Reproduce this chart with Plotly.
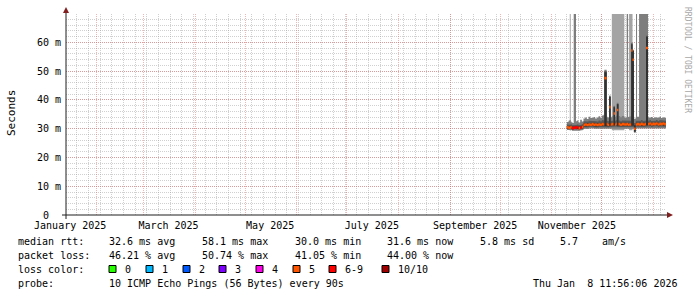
import plotly.graph_objects as go
from datetime import datetime, timedelta

# ---------------- data ----------------
T_START = "2025-01-13 12:00"
T_END = "2026-01-08 12:00"
DATA_END = "2026-01-08 12:00"

seg_start = [
    "2025-11-10 00:00", "2025-11-11 00:00", "2025-11-11 18:00", "2025-11-12 08:00", "2025-11-13 00:00",
    "2025-11-14 03:00", "2025-11-15 12:00", "2025-11-16 00:00", "2025-11-17 00:00", "2025-11-18 00:00",
    "2025-11-19 00:00", "2025-11-20 00:00", "2025-11-21 00:00", "2025-11-22 00:00", "2025-11-23 00:00",
    "2025-11-24 00:00", "2025-11-25 00:00", "2025-11-26 00:00", "2025-11-27 00:00", "2025-11-28 00:00",
    "2025-11-29 00:00", "2025-11-30 00:00", "2025-12-01 00:00", "2025-12-02 00:00", "2025-12-02 12:00",
    "2025-12-03 22:00", "2025-12-04 12:00", "2025-12-05 10:00", "2025-12-06 07:00", "2025-12-07 00:00",
    "2025-12-08 00:00", "2025-12-08 22:00", "2025-12-09 12:00", "2025-12-10 00:00", "2025-12-11 00:00",
    "2025-12-12 00:00", "2025-12-13 00:00", "2025-12-14 12:00", "2025-12-15 22:00", "2025-12-16 18:00",
    "2025-12-17 08:00", "2025-12-18 15:00", "2025-12-19 10:00", "2025-12-20 06:00", "2025-12-21 08:00",
    "2025-12-21 12:00", "2025-12-22 03:00", "2025-12-23 08:00", "2025-12-24 12:00", "2025-12-25 12:00",
    "2025-12-26 22:00", "2025-12-27 12:00", "2025-12-28 17:00", "2025-12-29 12:00", "2025-12-30 12:00",
    "2025-12-31 12:00", "2026-01-01 12:00", "2026-01-02 12:00", "2026-01-03 12:00", "2026-01-04 12:00",
    "2026-01-05 12:00", "2026-01-06 12:00", "2026-01-07 12:00",
]

median_ms = [
    30.5, 30.3, 30.4, 30.6, 30.2, 30.4, 30.3, 30.5, 30.2, 30.4,
    30.6, 31.4, 31.5, 31.3, 31.5, 31.4, 31.6, 31.4, 31.5, 31.3,
    31.5, 31.4, 31.6, 31.5, 47.6, 31.6, 31.4, 37.5, 31.5, 31.6,
    35.3, 31.5, 31.7, 36.5, 31.6, 31.4, 31.6, 31.5, 31.6, 31.4,
    31.5, 57.2, 54.0, 30.0, 31.6, 31.5, 31.6, 31.5, 31.7, 31.5,
    31.6, 58.1, 31.6, 31.8, 31.5, 31.7, 31.6, 31.8, 31.5, 31.7,
    31.6, 31.8, 31.6,
]

lost_pings = [
    5, 5, 5, 5, 6, 6, 6, 6, 5, 6,
    5, 5, 5, 5, 5, 5, 5, 5, 5, 5,
    5, 5, 5, 5, 5, 5, 5, 5, 5, 5,
    5, 5, 5, 5, 5, 5, 5, 5, 5, 5,
    5, 5, 5, 5, 5, 5, 5, 5, 5, 5,
    5, 5, 5, 5, 5, 5, 5, 5, 5, 5,
    5, 5, 5,
]

# smoke layers (ms); None = layer not present
smoke2_lo = [None, None, 29.3] + [None] * 26 + [29.5] * 8 + [None] * 3 + [29.5, 29.5] + [None] * 21
smoke2_hi = [None, None, 80.0] + [None] * 26 + [80.0] * 8 + [None] * 3 + [80.0, 80.0] + [None] * 21

smoke3_lo = [
    29.6, 29.4, 29.5, 29.6, 29.3, 29.4, 29.4, 29.5, 29.3, 29.4,
    29.6, 30.0, 30.1, 29.9, 30.0, 30.0, 30.2, 30.0, 30.1, 29.9,
    30.1, 30.0, 30.1, 30.0, 30.0, 30.1, 30.0, 30.0, 30.0, 30.1,
    30.0, 30.0, 30.1, 30.0, 30.1, 30.0, 30.1, 30.0, 30.1, 30.0,
    30.0, 30.0, 30.0, 28.7, 30.1, 30.0, 30.1, 30.0, 30.1, 30.0,
    30.1, 30.1, 30.0, 30.1, 30.0, 30.2, 30.1, 30.2, 30.0, 30.1,
    30.0, 30.2, 30.1,
]
smoke3_hi = [
    32.3, 32.8, 33.0, 32.4, 32.0, 80.0, 32.6, 32.9, 32.2, 33.1,
    32.5, 33.6, 33.9, 33.4, 34.2, 33.7, 33.8, 34.1, 33.6, 33.9,
    34.3, 33.8, 34.6, 34.9, 50.5, 34.2, 33.9, 41.6, 34.0, 34.3,
    38.0, 34.2, 34.5, 39.0, 34.4, 34.0, 34.4, 33.9, 80.0, 34.1,
    34.3, 60.0, 57.5, 33.5, 34.0, 80.0, 34.2, 80.0, 80.0, 80.0,
    80.0, 80.0, 34.0, 33.8, 34.1, 33.7, 34.0, 33.9, 33.8, 34.2,
    33.7, 34.0, 33.8,
]
smoke4_lo = [
    29.9, 29.7, 29.8, 30.0, 29.6, 29.8, 29.7, 29.9, 29.6, 29.8,
    30.0, 30.5, 30.6, 30.4, 30.6, 30.5, 30.7, 30.5, 30.6, 30.4,
    30.6, 30.5, 30.7, 30.6, 30.6, 30.7, 30.5, 30.6, 30.6, 30.7,
    30.6, 30.6, 30.8, 30.6, 30.7, 30.5, 30.7, 30.6, 30.7, 30.5,
    30.6, 30.6, 30.6, 28.8, 30.7, 30.6, 30.7, 30.6, 30.8, 30.6,
    30.7, 30.7, 30.7, 30.9, 30.6, 30.8, 30.7, 30.9, 30.6, 30.8,
    30.7, 30.9, 30.7,
]
smoke4_hi = [
    31.5, 31.3, 31.4, 31.6, 31.2, 31.4, 31.3, 31.5, 31.2, 31.4,
    31.6, 32.6, 32.7, 32.5, 32.8, 32.6, 32.8, 32.7, 32.6, 32.5,
    32.9, 32.6, 33.0, 32.9, 50.0, 32.8, 32.6, 41.3, 32.7, 32.9,
    37.7, 32.8, 33.0, 38.7, 32.9, 32.6, 32.9, 32.7, 32.8, 32.7,
    32.8, 59.7, 57.2, 32.0, 32.8, 32.7, 32.9, 32.8, 33.0, 32.7,
    32.9, 62.3, 32.8, 33.0, 32.7, 32.9, 32.8, 33.0, 32.7, 33.0,
    32.8, 33.0, 32.8,
]
smoke5_lo = [
    30.1, 30.0, 30.0, 30.2, 29.9, 30.0, 30.0, 30.1, 29.9, 30.0,
    30.2, 30.9, 31.0, 30.8, 31.0, 30.9, 31.1, 30.9, 31.0, 30.8,
    31.0, 30.9, 31.1, 31.0, 31.0, 31.1, 30.9, 31.0, 31.0, 31.1,
    31.0, 31.0, 31.2, 31.0, 31.1, 30.9, 31.1, 31.0, 31.1, 30.9,
    31.0, 31.0, 31.0, 29.0, 31.1, 31.0, 31.1, 31.0, 31.2, 31.0,
    31.1, 31.1, 31.1, 31.3, 31.0, 31.2, 31.1, 31.3, 31.0, 31.2,
    31.1, 31.3, 31.1,
]
smoke5_hi = [
    30.9, 30.8, 30.9, 31.0, 30.7, 30.9, 30.8, 30.9, 30.7, 30.9,
    31.0, 31.9, 32.0, 31.8, 32.0, 31.9, 32.1, 31.9, 32.0, 31.8,
    32.0, 31.9, 32.1, 32.0, 49.6, 32.1, 31.9, 41.0, 32.0, 32.1,
    37.5, 32.0, 32.2, 38.5, 32.1, 31.9, 32.1, 32.0, 32.1, 31.9,
    32.0, 59.4, 57.0, 31.2, 32.1, 32.0, 32.1, 32.0, 32.2, 32.0,
    32.1, 62.0, 32.1, 32.3, 32.0, 32.2, 32.1, 32.3, 32.0, 32.2,
    32.1, 32.3, 32.1,
]

loss_levels = ["0", "1", "2", "3", "4", "5", "6-9", "10/10"]
loss_colors = ["#26ff00", "#00b8ff", "#0059ff", "#7e00ff", "#ff00ea", "#ff5500", "#ff0000", "#a10000"]

y_tickvals = [0, 10, 20, 30, 40, 50, 60]
y_ticktext = ["0\u00a0\u00a0", "10 m", "20 m", "30 m", "40 m", "50 m", "60 m"]

month_lines = ["2025-02-01", "2025-03-01", "2025-04-01", "2025-05-01", "2025-06-01", "2025-07-01",
               "2025-08-01", "2025-09-01", "2025-10-01", "2025-11-01", "2025-12-01", "2026-01-01"]
label_dates = ["2025-01-16", "2025-03-16", "2025-05-16", "2025-07-16", "2025-09-16", "2025-11-16"]
label_text = ["January 2025", "March 2025", "May 2025", "July 2025", "September 2025", "November 2025"]

stats_rtt = ["32.6 ms avg", "58.1 ms max", "30.0 ms min", "31.6 ms now", "5.8 ms sd", "5.7", "am/s"]
stats_loss = ["46.21 % avg", "50.74 % max", "41.05 % min", "44.00 % now"]
probe_text = "10 ICMP Echo Pings (56 Bytes) every 90s"
stamp_text = "Thu Jan\u00a0\u00a08 11:56:06 2026"

# ---------------- helpers ----------------
W, H = 697, 297
L, R, T, B = 66, 31, 14, 82
PW, PH = W - L - R, H - T - B
FONT = "DejaVu Sans Mono"


def px(x):
    return (x - L) / PW


def py(y):
    return (H - B - y) / PH


def ts(s):
    return datetime.strptime(s, "%Y-%m-%d %H:%M")


starts = [ts(s) for s in seg_start]
ends = starts[1:] + [ts(DATA_END)]


def band_xy(lo, hi):
    xs, ys = [], []
    n = len(lo)
    i = 0
    while i < n:
        if lo[i] is None:
            i += 1
            continue
        j = i
        while j < n and lo[j] is not None:
            j += 1
        tx, ty, bx, by = [], [], [], []
        for k in range(i, j):
            tx += [starts[k], ends[k]]
            ty += [hi[k], hi[k]]
            bx += [starts[k], ends[k]]
            by += [lo[k], lo[k]]
        xs += tx + bx[::-1] + [starts[i], None]
        ys += ty + by[::-1] + [ty[0], None]
        i = j
    return xs, ys


fig = go.Figure()

layers = [
    (smoke2_lo, smoke2_hi, "#a4a4a4"),
    (smoke3_lo, smoke3_hi, "#7e7e7e"),
    (smoke4_lo, smoke4_hi, "#585858"),
    (smoke5_lo, smoke5_hi, "#323232"),
]
for lo, hi, col in layers:
    xs, ys = band_xy(lo, hi)
    fig.add_trace(go.Scatter(x=xs, y=ys, mode="lines", fill="toself", fillcolor=col,
                             line=dict(width=0, color=col), hoverinfo="skip", showlegend=False))

# median markers coloured by loss
half = 0.45
for li, col in enumerate(loss_colors):
    xs, ys = [], []
    for k, lp in enumerate(lost_pings):
        lvl = 6 if 6 <= lp <= 9 else (7 if lp >= 10 else lp)
        if lvl != li:
            continue
        m = median_ms[k]
        xs += [starts[k], ends[k], ends[k], starts[k], starts[k], None]
        ys += [m + half, m + half, m - half, m - half, m + half, None]
    if xs:
        fig.add_trace(go.Scatter(x=xs, y=ys, mode="lines", fill="toself", fillcolor=col,
                                 line=dict(width=0, color=col), hoverinfo="skip", showlegend=False))

# weekly minor grid (Mondays)
week_lines = []
d = ts("2025-01-13 00:00")
while d < ts(T_END):
    week_lines.append(d)
    d += timedelta(days=7)

GRID = "rgba(150,150,150,0.45)"
MGRID = "rgba(225,90,90,0.45)"
DASH = "1px,1px"

fig.update_layout(
    width=W, height=H,
    margin=dict(l=L, r=R, t=T, b=B, pad=0),
    paper_bgcolor="#ffffff", plot_bgcolor="#ffffff",
    showlegend=False,
    font=dict(family=FONT, size=10, color="#000000"),
    xaxis=dict(
        type="date", range=[T_START, T_END],
        tickmode="array", tickvals=month_lines, showticklabels=False,
        showgrid=True, gridcolor=MGRID, griddash=DASH, gridwidth=1,
        ticks="", zeroline=False, showline=False,
        minor=dict(tickmode="array", tickvals=week_lines, showgrid=True,
                   gridcolor=GRID, griddash=DASH, gridwidth=1, ticks=""),
    ),
    xaxis2=dict(
        type="date", range=[T_START, T_END], overlaying="x", anchor="y", side="bottom",
        tickmode="array", tickvals=label_dates, ticktext=label_text,
        showgrid=False, ticks="", zeroline=False, showline=False, ticklabelstandoff=3,
        tickfont=dict(family=FONT, size=10, color="#000000"),
    ),
    yaxis=dict(
        range=[0, 69.9], tickmode="array", tickvals=y_tickvals, ticktext=y_ticktext,
        showgrid=True, gridcolor=MGRID, griddash=DASH, gridwidth=1,
        zeroline=False, ticks="", ticklabelstandoff=4, showline=False,
        tickfont=dict(family=FONT, size=10, color="#000000"),
        minor=dict(dtick=2, showgrid=True, gridcolor=GRID, griddash=DASH, gridwidth=1, ticks=""),
    ),
)
# invisible trace to activate the label axis
fig.add_trace(go.Scatter(x=[T_START], y=[None], xaxis="x2", yaxis="y", showlegend=False, hoverinfo="skip"))

shapes = []
AXIS = "#1f1f1f"
ARROW = "#801f1f"
shapes.append(dict(type="line", xref="paper", yref="paper", x0=px(62), x1=px(668), y0=0, y1=0,
                   line=dict(color=AXIS, width=1)))
shapes.append(dict(type="path", xref="paper", yref="paper",
                   path=f"M {px(667)} {py(212)} L {px(673)} {py(215)} L {px(667)} {py(218)} Z",
                   fillcolor=ARROW, line=dict(color=ARROW, width=0)))
shapes.append(dict(type="line", xref="paper", yref="paper", x0=0, x1=0, y0=py(219), y1=py(12),
                   line=dict(color=AXIS, width=1)))
shapes.append(dict(type="path", xref="paper", yref="paper",
                   path=f"M {px(63)} {py(13)} L {px(66)} {py(7)} L {px(69)} {py(13)} Z",
                   fillcolor=ARROW, line=dict(color=ARROW, width=0)))

annotations = []


def text(x, y, s, anchor="left", size=10, color="#000000", angle=0):
    annotations.append(dict(xref="paper", yref="paper", x=px(x), y=py(y), text=s, showarrow=False,
                            xanchor=anchor, yanchor="middle", textangle=angle,
                            font=dict(family=FONT, size=size, color=color)))


text(11, 113, "Seconds", anchor="center", size=11, angle=-90)
text(687, 60, "RRDTOOL / TOBI OETIKER", anchor="center", size=8, color="#a8a8a8", angle=90)

row_y = [241.5, 255.5, 269, 283]
text(16, row_y[0], "median rtt:")
for xx, s in zip([107, 200, 293, 385, 478, 558, 600], stats_rtt):
    text(xx, row_y[0], s)
text(16, row_y[1], "packet loss:")
for xx, s in zip([107, 200, 293, 385], stats_loss):
    text(xx, row_y[1], s)
text(16, row_y[2], "loss color:")
box_x = [109, 146, 183, 219, 256, 293, 329, 382]
for bx, lab, col in zip(box_x, loss_levels, loss_colors):
    shapes.append(dict(type="rect", xref="paper", yref="paper",
                       x0=px(bx), x1=px(bx + 7), y0=py(272.5), y1=py(265.5),
                       fillcolor=col, line=dict(color="#000000", width=1)))
    text(bx + 14, row_y[2], lab)
text(16, row_y[3], "probe:")
text(107, row_y[3], probe_text)
text(680, row_y[3], stamp_text, anchor="right")

fig.update_layout(shapes=shapes, annotations=annotations)
fig.write_html("out.html")
